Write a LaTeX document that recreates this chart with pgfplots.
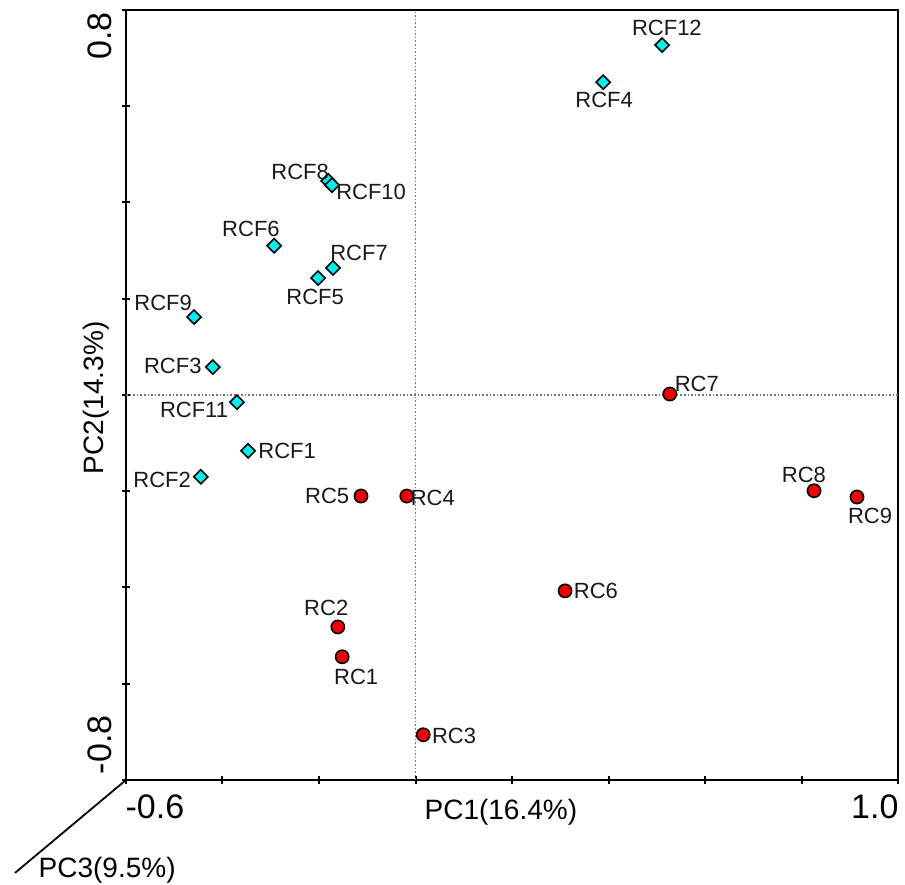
\documentclass[border=0pt]{standalone}
\usepackage{pgfplots}
\pgfplotsset{compat=1.18}
\usepackage{fontspec}
\setmainfont{Liberation Sans}

\definecolor{dcyan}{RGB}{0,240,240}
\definecolor{dred}{RGB}{240,0,0}

\pgfplotstableread{
x y
0.511 0.727
0.389 0.650
-0.181 0.445
-0.173 0.436
-0.293 0.310
-0.171 0.264
-0.202 0.243
-0.459 0.162
-0.420 0.058
-0.370 -0.015
-0.347 -0.116
-0.445 -0.170
}\rcf

\pgfplotstableread{
x y
-0.113 -0.210
-0.018 -0.210
0.527 0.002
0.826 -0.199
0.915 -0.212
0.310 -0.407
-0.161 -0.482
-0.152 -0.544
0.016 -0.706
}\rc

% label centres
\pgfplotstableread{
x y lab
0.521 0.763 RCF12
0.391 0.613 RCF4
-0.239 0.463 RCF8
-0.092 0.422 RCF10
-0.341 0.345 RCF6
-0.117 0.295 RCF7
-0.208 0.204 RCF5
-0.523 0.191 RCF9
-0.503 0.060 RCF3
-0.459 -0.031 RCF11
-0.266 -0.116 RCF1
-0.525 -0.177 RCF2
-0.183 -0.210 RC5
0.036 -0.214 RC4
0.583 0.023 RC7
0.805 -0.166 RC8
0.942 -0.251 RC9
0.374 -0.407 RC6
-0.185 -0.443 RC2
-0.123 -0.586 RC1
0.080 -0.709 RC3
}\labs

\begin{document}
\begin{tikzpicture}
\path[use as bounding box] (-63pt,-52pt) rectangle (389.5pt,390pt);
\begin{axis}[
  scale only axis, width=386pt, height=385pt,
  xmin=-0.6, xmax=1.0, ymin=-0.8, ymax=0.8,
  xtick={-0.6,-0.4,-0.2,0,0.2,0.4,0.6,0.8,1.0},
  ytick={-0.8,-0.6,-0.4,-0.2,0,0.2,0.4,0.6,0.8},
  xticklabels={}, yticklabels={},
  tick pos=left, tick align=center, major tick length=4pt,
  tick style={black, line width=1pt},
  axis line style={line width=1.2pt},
  clip=false,
]
\draw[black!55, line width=0.9pt, dash pattern=on 0.8pt off 1pt] (axis cs:0,-0.8) -- (axis cs:0,0.8);
\draw[black!55, line width=0.9pt, dash pattern=on 0.8pt off 1pt] (axis cs:-0.6,0) -- (axis cs:1.0,0);

\addplot[only marks, mark=square*, mark size=2.5pt,
  mark options={rotate=45, fill=dcyan, draw=black, line width=0.8pt}] table {\rcf};
\addplot[only marks, mark=*, mark size=3.3pt,
  mark options={fill=dred, draw=black, line width=0.8pt}] table {\rc};

\addplot[only marks, mark=none, nodes near coords, point meta=explicit symbolic,
  nodes near coords style={anchor=center, inner sep=0pt, text=black!90,
    font=\fontsize{11}{13}\selectfont}] table[meta=lab] {\labs};

\node[font=\fontsize{17}{20}\selectfont] at (axis cs:-0.540,-0.856) {-0.6};
\node[font=\fontsize{17}{20}\selectfont] at (axis cs:0.952,-0.856) {1.0};
\node[font=\fontsize{17}{20}\selectfont, rotate=90] at (axis cs:-0.654,0.746) {0.8};
\node[font=\fontsize{17}{20}\selectfont, rotate=90] at (axis cs:-0.654,-0.727) {-0.8};
\node[font=\fontsize{14}{16}\selectfont] at (axis cs:0.177,-0.867) {PC1(16.4\%)};
\node[font=\fontsize{14}{16}\selectfont, rotate=90] at (axis cs:-0.662,-0.006) {PC2(14.3\%)};
\node[font=\fontsize{14}{16}\selectfont] at (axis cs:-0.639,-0.987) {PC3(9.5\%)};
\draw[line width=0.9pt] (axis cs:-0.6,-0.8) -- (axis cs:-0.830,-0.993);
\end{axis}
\end{tikzpicture}
\end{document}
